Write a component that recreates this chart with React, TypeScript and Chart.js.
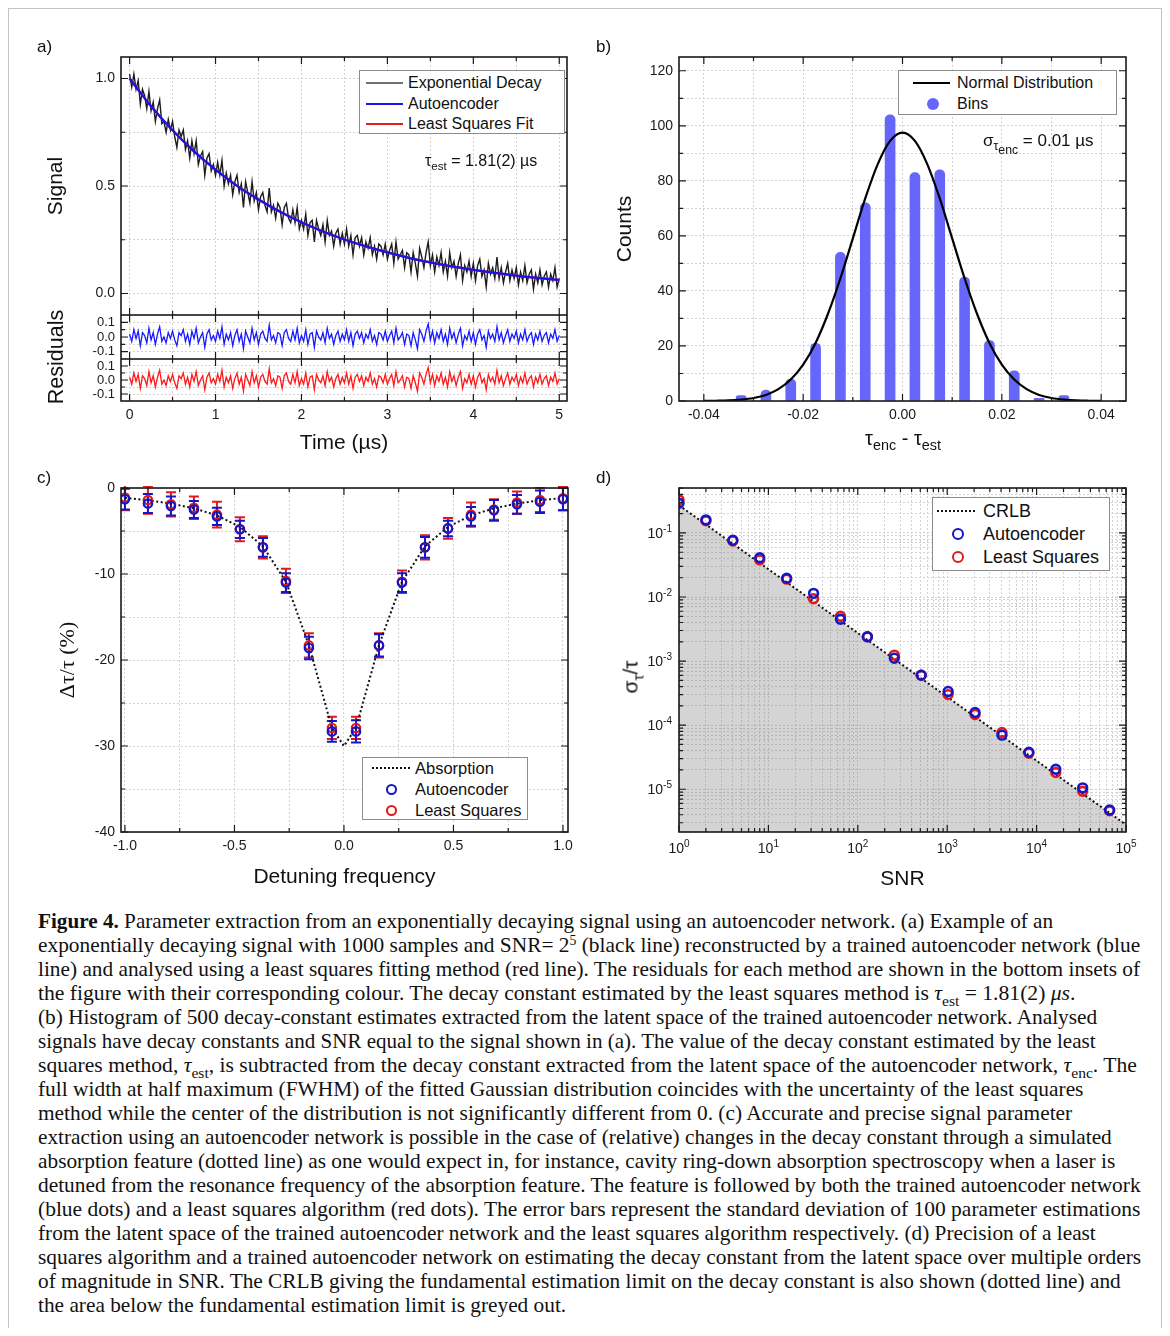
import React, { useEffect, useLayoutEffect, useRef } from 'react';
import { Chart, registerables } from 'chart.js';

Chart.register(...registerables);

const SANS = "'Liberation Sans', Arial, Helvetica, sans-serif";
const SERIF = "'Liberation Serif', 'Times New Roman', serif";

// ---------------- Panel a data ----------------
const aSampleStep = 0.025; // µs between plotted samples
const aSignal = [
  1.02, 0.96, 1.02, 0.95, 0.99, 0.88, 0.95, 0.92, 0.86, 0.94,
  0.85, 0.89, 0.80, 0.86, 0.90, 0.79, 0.80, 0.75, 0.81, 0.76,
  0.80, 0.73, 0.68, 0.76, 0.73, 0.76, 0.67, 0.71, 0.63, 0.71,
  0.65, 0.71, 0.60, 0.64, 0.66, 0.55, 0.63, 0.65, 0.57, 0.60,
  0.55, 0.61, 0.55, 0.62, 0.50, 0.56, 0.51, 0.55, 0.46, 0.52,
  0.55, 0.47, 0.51, 0.40, 0.52, 0.47, 0.42, 0.52, 0.43, 0.47,
  0.39, 0.45, 0.47, 0.41, 0.38, 0.49, 0.38, 0.41, 0.35, 0.42,
  0.40, 0.32, 0.40, 0.42, 0.35, 0.33, 0.39, 0.33, 0.40, 0.30,
  0.34, 0.30, 0.37, 0.27, 0.33, 0.34, 0.24, 0.34, 0.30, 0.27,
  0.32, 0.24, 0.34, 0.27, 0.29, 0.22, 0.28, 0.30, 0.23, 0.28,
  0.23, 0.30, 0.22, 0.27, 0.18, 0.26, 0.27, 0.22, 0.26, 0.18,
  0.24, 0.21, 0.26, 0.18, 0.22, 0.16, 0.23, 0.22, 0.18, 0.23,
  0.16, 0.20, 0.23, 0.14, 0.24, 0.16, 0.18, 0.20, 0.12, 0.19,
  0.18, 0.10, 0.19, 0.14, 0.08, 0.21, 0.17, 0.12, 0.19, 0.24,
  0.13, 0.18, 0.10, 0.17, 0.13, 0.19, 0.10, 0.15, 0.08, 0.19,
  0.12, 0.15, 0.08, 0.14, 0.18, 0.06, 0.13, 0.10, 0.15, 0.08,
  0.14, 0.06, 0.13, 0.16, 0.08, 0.11, 0.03, 0.14, 0.09, 0.12,
  0.07, 0.17, 0.07, 0.12, 0.05, 0.10, 0.14, 0.06, 0.11, 0.07,
  0.12, 0.04, 0.10, 0.06, 0.13, 0.05, 0.09, 0.11, 0.02, 0.09,
  0.05, 0.11, 0.04, 0.08, 0.10, 0.03, 0.09, 0.06, 0.12, 0.03,
  0.07,
];
const aResidualsAE = [
  0.02, -0.03, 0.05, -0.01, 0.04, -0.06, 0.03, 0.01, -0.04, 0.06,
  -0.02, 0.03, -0.05, 0.02, 0.07, -0.03, 0.0, -0.04, 0.03, -0.01,
  0.04, -0.02, -0.06, 0.03, 0.01, 0.05, -0.03, 0.02, -0.05, 0.04,
  -0.01, 0.06, -0.04, 0.0, 0.03, -0.07, 0.02, 0.05, -0.02, 0.01,
  -0.03, 0.04, -0.01, 0.07, -0.05, 0.02, -0.02, 0.03, -0.06, 0.01,
  0.05, -0.03, 0.02, -0.08, 0.04, 0.0, -0.04, 0.06, -0.02, 0.03,
  -0.05, 0.02, 0.04, -0.01, -0.03, 0.08, -0.02, 0.01, -0.04, 0.03,
  0.02, -0.06, 0.03, 0.05, -0.01, -0.03, 0.04, -0.02, 0.06, -0.04,
  0.01, -0.03, 0.05, -0.05, 0.02, 0.03, -0.07, 0.04, 0.0, -0.02,
  0.03, -0.04, 0.06, -0.01, 0.02, -0.05, 0.01, 0.04, -0.03, 0.02,
  -0.02, 0.05, -0.03, 0.03, -0.06, 0.02, 0.04, -0.01, 0.03, -0.04,
  0.02, -0.01, 0.05, -0.03, 0.01, -0.05, 0.03, 0.02, -0.02, 0.04,
  -0.03, 0.01, 0.04, -0.04, 0.06, -0.02, 0.0, 0.03, -0.05, 0.02,
  0.01, -0.06, 0.03, -0.02, -0.08, 0.05, 0.02, -0.03, 0.04, 0.09,
  -0.02, 0.04, -0.04, 0.03, -0.01, 0.05, -0.03, 0.02, -0.05, 0.06,
  -0.01, 0.03, -0.04, 0.02, 0.06, -0.06, 0.01, -0.02, 0.04, -0.03,
  0.03, -0.05, 0.02, 0.05, -0.02, 0.01, -0.07, 0.04, -0.01, 0.02,
  -0.03, 0.07, -0.02, 0.03, -0.04, 0.01, 0.05, -0.03, 0.02, -0.01,
  0.04, -0.04, 0.02, -0.02, 0.05, -0.03, 0.01, 0.03, -0.05, 0.02,
  -0.02, 0.04, -0.03, 0.01, 0.03, -0.04, 0.02, -0.01, 0.05, -0.03,
  0.01,
];
// the least-squares residuals are visually indistinguishable from the autoencoder ones
const aResidualsLS = aResidualsAE;
const aFitTime = [0, 0.25, 0.5, 0.75, 1, 1.25, 1.5, 1.75, 2, 2.25, 2.5, 2.75, 3, 3.25, 3.5, 3.75, 4, 4.25, 4.5, 4.75, 5];
const aFitAE = [1.0, 0.871, 0.759, 0.661, 0.576, 0.501, 0.437, 0.38, 0.331, 0.288, 0.251, 0.219, 0.191, 0.166, 0.145, 0.126, 0.11, 0.096, 0.083, 0.0725, 0.063];
const aFitLS = [1.0, 0.871, 0.759, 0.661, 0.576, 0.502, 0.437, 0.381, 0.331, 0.288, 0.251, 0.219, 0.191, 0.166, 0.145, 0.126, 0.11, 0.096, 0.083, 0.0725, 0.063];
const aTimeTicks = [0, 0.5, 1, 1.5, 2, 2.5, 3, 3.5, 4, 4.5, 5];
const aTimeMajor = [0, 1, 2, 3, 4, 5];
const aSignalTicks = [0, 0.25, 0.5, 0.75, 1.0];
const aSignalMajor = [0, 0.5, 1.0];
const aResidualTicks = [-0.1, -0.05, 0, 0.05, 0.1];
const aResidualMajor = [-0.1, 0, 0.1];

// ---------------- Panel b data ----------------
const bBinCenters = [-0.0325, -0.0275, -0.0225, -0.0175, -0.0125, -0.0075, -0.0025, 0.0025, 0.0075, 0.0125, 0.0175, 0.0225, 0.0275, 0.0325];
const bCounts = [2, 4, 8, 21, 54, 72, 104, 83, 84, 45, 22, 11, 1, 2];
const bNormalX = [
  -0.04, -0.0375, -0.035, -0.0325, -0.03, -0.0275, -0.025, -0.0225, -0.02, -0.0175, -0.015, -0.0125, -0.01, -0.0075, -0.005, -0.0025,
  0, 0.0025, 0.005, 0.0075, 0.01, 0.0125, 0.015, 0.0175, 0.02, 0.0225, 0.025, 0.0275, 0.03, 0.0325, 0.035, 0.0375, 0.04,
];
const bNormalY = [
  0.03, 0.09, 0.21, 0.5, 1.08, 2.2, 4.3, 7.8, 13.2, 21.1, 31.7, 44.6, 59.1, 73.6, 86.0, 94.5,
  97.5, 94.5, 86.0, 73.6, 59.1, 44.6, 31.7, 21.1, 13.2, 7.8, 4.3, 2.2, 1.08, 0.5, 0.21, 0.09, 0.03,
];
const bXTicks = [-0.04, -0.03, -0.02, -0.01, 0, 0.01, 0.02, 0.03, 0.04];
const bXMajor = [-0.04, -0.02, 0, 0.02, 0.04];
const bYTicks = [0, 10, 20, 30, 40, 50, 60, 70, 80, 90, 100, 110, 120];
const bYMajor = [0, 20, 40, 60, 80, 100, 120];

// ---------------- Panel c data ----------------
const cDetuning = [-1.0, -0.895, -0.79, -0.685, -0.58, -0.475, -0.37, -0.265, -0.16, -0.055, 0.055, 0.16, 0.265, 0.37, 0.475, 0.58, 0.685, 0.79, 0.895, 1.0];
const cAutoencoder = [-1.3, -1.8, -2.1, -2.5, -3.3, -4.8, -6.9, -11.0, -18.6, -28.3, -28.3, -18.3, -11.0, -6.9, -4.7, -3.3, -2.6, -1.9, -1.6, -1.3];
const cAutoencoderErr = [1.2, 1.1, 1.1, 1.0, 1.0, 1.0, 1.1, 1.1, 1.3, 1.2, 1.3, 1.3, 1.1, 1.2, 0.9, 1.1, 1.2, 1.1, 1.3, 1.3];
const cLeastSquares = [-1.1, -1.4, -1.9, -2.3, -3.1, -4.8, -6.9, -10.8, -18.3, -27.9, -27.9, -18.3, -10.9, -6.9, -4.7, -3.1, -2.5, -1.7, -1.4, -1.2];
const cLeastSquaresErr = [1.5, 1.6, 1.4, 1.3, 1.5, 1.4, 1.3, 1.4, 1.4, 1.3, 1.3, 1.4, 1.3, 1.4, 1.2, 1.4, 1.2, 1.3, 1.4, 1.4];
const cAbsorptionX = [-1.0, -0.895, -0.79, -0.685, -0.58, -0.475, -0.37, -0.265, -0.16, -0.055, 0, 0.055, 0.16, 0.265, 0.37, 0.475, 0.58, 0.685, 0.79, 0.895, 1.0];
const cAbsorption = [-1.15, -1.43, -1.81, -2.36, -3.19, -4.52, -6.79, -10.89, -18.29, -27.89, -30, -27.89, -18.29, -10.89, -6.79, -4.52, -3.19, -2.36, -1.81, -1.43, -1.15];
const cXTicks = [-1.0, -0.75, -0.5, -0.25, 0, 0.25, 0.5, 0.75, 1.0];
const cXMajor = [-1.0, -0.5, 0, 0.5, 1.0];
const cYTicks = [-40, -35, -30, -25, -20, -15, -10, -5, 0];
const cYMajor = [-40, -30, -20, -10, 0];

// ---------------- Panel d data ----------------
const dSNR = [1, 2, 4, 8, 16, 32, 64, 128, 256, 512, 1024, 2048, 4096, 8192, 16384, 32768, 65536];
const dAutoencoder = [0.29, 0.16, 0.077, 0.041, 0.0196, 0.0114, 0.0045, 0.0024, 0.00111, 0.0006, 0.000336, 0.000158, 0.0000698, 0.0000379, 0.0000205, 0.0000105, 0.00000475];
const dLeastSquares = [0.33, 0.155, 0.075, 0.038, 0.019, 0.0094, 0.005, 0.0024, 0.00124, 0.0006, 0.0003, 0.000147, 0.0000768, 0.0000365, 0.0000182, 0.0000093, 0.0000046];
const dCrlbSNR = [1, 100000];
const dCrlb = [0.27, 0.0000028];
const dXMajor = [1, 10, 100, 1000, 10000, 100000];
const dXExponents = ['0', '1', '2', '3', '4', '5'];
const dYMajor = [0.000001, 0.00001, 0.0001, 0.001, 0.01, 0.1];
const dYExponents = ['-6', '-5', '-4', '-3', '-2', '-1'];
const dMinorSteps = [2, 3, 4, 5, 6, 7, 8, 9];

// ---------------- helpers ----------------
const OFF = 8; // body margin
const P = (v: number) => v - OFF;
const AE_BLUE = '#1616c8';
const LS_RED = '#e01a1a';

function pairs(xs: number[], ys: number[]) {
  return xs.map((x, i) => ({ x, y: ys[i] }));
}
function near(list: number[], v: number) {
  return list.some((m) => Math.abs(m - v) <= 1e-12 + 1e-6 * Math.abs(m));
}
function logTicks(majors: number[], lo: number, hi: number) {
  const out: number[] = [];
  majors.forEach((m) => {
    if (m >= lo * 0.999 && m <= hi * 1.001) out.push(m);
    dMinorSteps.forEach((s) => {
      const v = m * s;
      if (v >= lo && v <= hi) out.push(v);
    });
  });
  return out.sort((a, b) => a - b);
}

const BASE = {
  responsive: false,
  animation: false,
  events: [],
  plugins: { legend: { display: false }, tooltip: { enabled: false } },
};

function axis(o: any) {
  return {
    type: o.type || 'linear',
    min: o.min,
    max: o.max,
    offset: false,
    afterBuildTicks: (scale: any) => {
      scale.ticks = o.ticks.map((value: number) => ({ value }));
    },
    afterFit: (scale: any) => {
      if (o.w !== undefined) scale.width = o.w;
      if (o.h !== undefined) scale.height = o.h;
      scale.paddingTop = 0;
      scale.paddingBottom = 0;
      scale.paddingLeft = 0;
      scale.paddingRight = 0;
    },
    grid: { color: '#d2d2d2', lineWidth: 1, drawTicks: false, offset: false, borderDash: [2, 2] },
    border: { display: false, dash: [2, 2] },
    ticks: {
      display: o.show !== false,
      autoSkip: false,
      maxRotation: 0,
      minRotation: 0,
      padding: o.pad ?? 6,
      color: '#1a1a1a',
      font: { family: SANS, size: o.font ?? 14 },
      callback: (_v: any, i: number, ts: any[]) => (o.label ? o.label(ts[i].value) : ''),
    },
    title: o.title ? { display: true, color: '#111', ...o.title } : { display: false },
  };
}

function framePlugin(majorX: number[], majorY: number[]) {
  return {
    id: 'frame',
    afterDraw(chart: any) {
      const { ctx, chartArea: a } = chart;
      const xs = chart.scales.x;
      const ys = chart.scales.y;
      ctx.save();
      ctx.strokeStyle = '#1a1a1a';
      ctx.lineWidth = 1.2;
      ctx.beginPath();
      xs.ticks.forEach((t: any) => {
        const px = xs.getPixelForValue(t.value);
        if (px < a.left - 0.5 || px > a.right + 0.5) return;
        const len = near(majorX, t.value) ? 7 : 4;
        ctx.moveTo(px, a.bottom);
        ctx.lineTo(px, a.bottom - len);
        ctx.moveTo(px, a.top);
        ctx.lineTo(px, a.top + len);
      });
      ys.ticks.forEach((t: any) => {
        const py = ys.getPixelForValue(t.value);
        if (py < a.top - 0.5 || py > a.bottom + 0.5) return;
        const len = near(majorY, t.value) ? 7 : 4;
        ctx.moveTo(a.left, py);
        ctx.lineTo(a.left + len, py);
        ctx.moveTo(a.right, py);
        ctx.lineTo(a.right - len, py);
      });
      ctx.stroke();
      ctx.lineWidth = 1.6;
      ctx.strokeRect(a.left, a.top, a.right - a.left, a.bottom - a.top);
      ctx.restore();
    },
  };
}

// draws "10" with a raised exponent at the major ticks of the log axes
const powerLabelPlugin = {
  id: 'powerLabels',
  afterDraw(chart: any) {
    const { ctx, chartArea: a } = chart;
    const xs = chart.scales.x;
    const ys = chart.scales.y;
    ctx.save();
    ctx.fillStyle = '#1a1a1a';
    ctx.textAlign = 'left';
    ctx.textBaseline = 'alphabetic';
    const draw = (x: number, y: number, exp: string, align: string) => {
      ctx.font = `14px ${SANS}`;
      const bw = ctx.measureText('10').width;
      ctx.font = `10px ${SANS}`;
      const ew = ctx.measureText(exp).width;
      const left = align === 'center' ? x - (bw + ew) / 2 : x - bw - ew;
      ctx.font = `14px ${SANS}`;
      ctx.fillText('10', left, y);
      ctx.font = `10px ${SANS}`;
      ctx.fillText(exp, left + bw, y - 6);
    };
    dXMajor.forEach((m, i) => {
      if (m < xs.min * 0.999 || m > xs.max * 1.001) return;
      draw(xs.getPixelForValue(m), a.bottom + 21, dXExponents[i], 'center');
    });
    dYMajor.forEach((m, i) => {
      if (m < ys.min || m > ys.max) return;
      draw(a.left - 7, ys.getPixelForValue(m) + 5, dYExponents[i], 'right');
    });
    ctx.restore();
  },
};

const errorBarPlugin = {
  id: 'errorBars',
  beforeDatasetsDraw(chart: any) {
    const { ctx, chartArea: a } = chart;
    const ys = chart.scales.y;
    ctx.save();
    ctx.beginPath();
    ctx.rect(a.left, a.top - 2, a.right - a.left, a.bottom - a.top + 4);
    ctx.clip();
    for (let i = chart.data.datasets.length - 1; i >= 0; i--) {
      const ds: any = chart.data.datasets[i];
      if (!ds.errors) continue;
      const meta = chart.getDatasetMeta(i);
      ctx.strokeStyle = ds.errorColor;
      ctx.lineWidth = 2;
      ctx.beginPath();
      meta.data.forEach((pt: any, j: number) => {
        const v = ds.data[j].y;
        const e = ds.errors[j];
        const yT = ys.getPixelForValue(v + e);
        const yB = ys.getPixelForValue(v - e);
        ctx.moveTo(pt.x, yT);
        ctx.lineTo(pt.x, yB);
        ctx.moveTo(pt.x - 5, yT);
        ctx.lineTo(pt.x + 5, yT);
        ctx.moveTo(pt.x - 5, yB);
        ctx.lineTo(pt.x + 5, yB);
      });
      ctx.stroke();
    }
    ctx.restore();
  },
};

// ---------------- chart configs ----------------
function signalConfig() {
  return {
    type: 'line',
    data: {
      datasets: [
        { label: 'Autoencoder', data: pairs(aFitTime, aFitAE), borderColor: '#1414f0', borderWidth: 2.2, pointRadius: 0, cubicInterpolationMode: 'monotone' },
        { label: 'Least Squares Fit', data: pairs(aFitTime, aFitLS), borderColor: '#e81c1c', borderWidth: 2.2, pointRadius: 0, cubicInterpolationMode: 'monotone' },
        { label: 'Exponential Decay', data: aSignal.map((y, i) => ({ x: i * aSampleStep, y })), borderColor: '#1c1c1c', borderWidth: 1.4, pointRadius: 0 },
      ],
    },
    options: {
      ...BASE,
      layout: { padding: { top: 17, right: 13, left: 0, bottom: 0 } },
      scales: {
        x: axis({ min: -0.1, max: 5.09, ticks: aTimeTicks, show: false, h: 0 }),
        y: axis({
          min: -0.1, max: 1.1, ticks: aSignalTicks, w: 91,
          label: (v: number) => (near(aSignalMajor, v) ? v.toFixed(1) : ''),
          title: { text: 'Signal', font: { family: SANS, size: 21 }, padding: { top: 14, bottom: 0 } },
        }),
      },
    },
    plugins: [framePlugin(aTimeMajor, aSignalMajor)],
  };
}

function residualConfig(values: number[], color: string, label: string, bottom: boolean) {
  return {
    type: 'line',
    data: {
      datasets: [{ label, data: values.map((y, i) => ({ x: i * aSampleStep, y })), borderColor: color, borderWidth: 1.3, pointRadius: 0 }],
    },
    options: {
      ...BASE,
      layout: { padding: { top: 0, right: 13, left: 0, bottom: 0 } },
      scales: {
        x: bottom
          ? axis({
              min: -0.1, max: 5.09, ticks: aTimeTicks, h: 59, pad: 6,
              label: (v: number) => (near(aTimeMajor, v) ? String(v) : ''),
              title: { text: 'Time (µs)', font: { family: SANS, size: 21 }, padding: { top: 0, bottom: 4 } },
            })
          : axis({ min: -0.1, max: 5.09, ticks: aTimeTicks, show: false, h: 0 }),
        y: axis({
          min: -0.15, max: 0.15, ticks: aResidualTicks, w: 91, font: 13, pad: 6,
          label: (v: number) => (near(aResidualMajor, v) ? (Math.abs(v) < 1e-9 ? '0.0' : v.toFixed(1)) : ''),
        }),
      },
    },
    plugins: [framePlugin(aTimeMajor, aResidualMajor)],
  };
}

function histConfig() {
  return {
    type: 'bar',
    data: {
      datasets: [
        { type: 'line', label: 'Normal Distribution', data: pairs(bNormalX, bNormalY), borderColor: '#000', borderWidth: 2.2, pointRadius: 0, cubicInterpolationMode: 'monotone' },
        { type: 'bar', label: 'Bins', data: pairs(bBinCenters, bCounts), backgroundColor: 'rgb(102,102,250)', barThickness: 10, borderRadius: 5, borderSkipped: 'start' },
      ],
    },
    options: {
      ...BASE,
      layout: { padding: { top: 17, right: 24, left: 0, bottom: 0 } },
      scales: {
        x: axis({ min: -0.045, max: 0.045, ticks: bXTicks, h: 59, pad: 6, label: (v: number) => (near(bXMajor, v) ? (Math.abs(v) < 1e-9 ? '0.00' : v.toFixed(2)) : '') }),
        y: axis({
          min: 0, max: 125, ticks: bYTicks, w: 89, pad: 6,
          label: (v: number) => (near(bYMajor, v) ? String(v) : ''),
          title: { text: 'Counts', font: { family: SANS, size: 21 }, padding: { top: 23, bottom: 0 } },
        }),
      },
    },
    plugins: [framePlugin(bXMajor, bYMajor)],
  };
}

function detuningConfig() {
  const ring = (color: string) => ({ pointRadius: 4.2, pointBorderWidth: 2.2, pointBorderColor: color, pointBackgroundColor: 'rgba(0,0,0,0)', borderColor: color, backgroundColor: 'rgba(0,0,0,0)' });
  return {
    type: 'scatter',
    data: {
      datasets: [
        { label: 'Autoencoder', data: pairs(cDetuning, cAutoencoder), errors: cAutoencoderErr, errorColor: AE_BLUE, ...ring(AE_BLUE) },
        { label: 'Least Squares', data: pairs(cDetuning, cLeastSquares), errors: cLeastSquaresErr, errorColor: LS_RED, ...ring(LS_RED) },
        { label: 'Absorption', data: pairs(cAbsorptionX, cAbsorption), showLine: true, borderColor: '#111', borderWidth: 2, borderDash: [2, 2.5], pointRadius: 0 },
      ],
    },
    options: {
      ...BASE,
      layout: { padding: { top: 18, right: 12, left: 0, bottom: 0 } },
      scales: {
        x: axis({
          min: -1.018, max: 1.023, ticks: cXTicks, h: 68, pad: 6,
          label: (v: number) => (near(cXMajor, v) ? (Math.abs(v) < 1e-9 ? '0.0' : v.toFixed(1)) : ''),
          title: { text: 'Detuning frequency', font: { family: SANS, size: 21 }, padding: { top: 0, bottom: 10 } },
        }),
        y: axis({
          min: -40, max: 0, ticks: cYTicks, w: 91, pad: 6,
          label: (v: number) => (near(cYMajor, v) ? String(v) : ''),
          title: { text: 'Δτ/τ (%)', font: { family: SERIF, size: 22 }, padding: { top: 25, bottom: 0 } },
        }),
      },
    },
    plugins: [errorBarPlugin, framePlugin(cXMajor, cYMajor)],
  };
}

function precisionConfig() {
  const ring = (color: string) => ({ pointRadius: 4.4, pointBorderWidth: 2.6, pointBorderColor: color, pointBackgroundColor: 'rgba(0,0,0,0)', borderColor: color, backgroundColor: 'rgba(0,0,0,0)' });
  const xMin = 1, xMax = 100000, yMin = 0.00000215, yMax = 0.503;
  return {
    type: 'scatter',
    data: {
      datasets: [
        { label: 'Autoencoder', data: pairs(dSNR, dAutoencoder), ...ring(AE_BLUE) },
        { label: 'Least Squares', data: pairs(dSNR, dLeastSquares), ...ring(LS_RED) },
        { label: 'CRLB', data: pairs(dCrlbSNR, dCrlb), showLine: true, borderColor: '#111', borderWidth: 2, borderDash: [2, 2.5], pointRadius: 0, fill: 'start', backgroundColor: 'rgba(120,120,120,0.32)' },
      ],
    },
    options: {
      ...BASE,
      layout: { padding: { top: 18, right: 24, left: 0, bottom: 0 } },
      scales: {
        x: axis({
          type: 'logarithmic', min: xMin, max: xMax, ticks: logTicks(dXMajor, xMin, xMax), h: 68, show: false,
          title: { text: 'SNR', font: { family: SANS, size: 21 }, padding: { top: 0, bottom: 8 } },
        }),
        y: axis({ type: 'logarithmic', min: yMin, max: yMax, ticks: logTicks(dYMajor, yMin, yMax), w: 89, show: false }),
      },
    },
    plugins: [framePlugin(dXMajor, dYMajor), powerLabelPlugin],
  };
}

// ---------------- components ----------------
function ChartCanvas({ left, top, width, height, make }: any) {
  const ref = useRef<HTMLCanvasElement>(null);
  useEffect(() => {
    const chart = new Chart(ref.current as any, make());
    return () => chart.destroy();
  }, []);
  return (
    <canvas
      ref={ref}
      width={width}
      height={height}
      style={{ position: 'absolute', left: P(left), top: P(top), width, height }}
    />
  );
}

const Sub = ({ children, size = '0.72em', shift = '-0.38em' }: any) => (
  <span style={{ fontSize: size, verticalAlign: shift, lineHeight: 0 }}>{children}</span>
);
const Sup = ({ children }: any) => (
  <span style={{ fontSize: '0.65em', verticalAlign: '0.55em', lineHeight: 0 }}>{children}</span>
);

function Txt({ x, cy, size, family = SANS, center = false, children, style }: any) {
  return (
    <div
      style={{
        position: 'absolute', left: P(x), top: P(cy), transform: center ? 'translate(-50%,-50%)' : 'translateY(-50%)',
        fontSize: size, fontFamily: family, lineHeight: 1, whiteSpace: 'nowrap', color: '#111', ...style,
      }}
    >
      {children}
    </div>
  );
}
function VTxt({ cx, cy, size, family = SANS, children }: any) {
  return (
    <div
      style={{
        position: 'absolute', left: P(cx), top: P(cy), transform: 'translate(-50%,-50%) rotate(-90deg)',
        fontSize: size, fontFamily: family, lineHeight: 1, whiteSpace: 'nowrap', color: '#111',
      }}
    >
      {children}
    </div>
  );
}
const Box = ({ l, t, w, h }: any) => (
  <div style={{ position: 'absolute', left: P(l), top: P(t), width: w, height: h, border: '1px solid #8c8c8c', background: '#fff', boxSizing: 'border-box' }} />
);
const HLine = ({ x1, x2, cy, color, width = 2, dotted = false }: any) => (
  <div style={{ position: 'absolute', left: P(x1), top: P(cy - width / 2), width: x2 - x1, height: 0, borderTop: `${width}px ${dotted ? 'dotted' : 'solid'} ${color}` }} />
);
const Ring = ({ cx, cy, d, color, bw }: any) => (
  <div style={{ position: 'absolute', left: P(cx - d / 2), top: P(cy - d / 2), width: d, height: d, borderRadius: '50%', border: `${bw}px solid ${color}`, boxSizing: 'border-box' }} />
);
const Dot = ({ cx, cy, d, color }: any) => (
  <div style={{ position: 'absolute', left: P(cx - d / 2), top: P(cy - d / 2), width: d, height: d, borderRadius: '50%', background: color }} />
);

const tau = <i>τ</i>;
const captionLines: any[] = [
  <><b>Figure 4.</b> Parameter extraction from an exponentially decaying signal using an autoencoder network. (a) Example of an</>,
  <>exponentially decaying signal with 1000 samples and SNR= 2<Sup>5</Sup> (black line) reconstructed by a trained autoencoder network (blue</>,
  <>line) and analysed using a least squares fitting method (red line). The residuals for each method are shown in the bottom insets of</>,
  <>the figure with their corresponding colour. The decay constant estimated by the least squares method is {tau}<Sub>est</Sub> = 1.81(2) <i>μs</i>.</>,
  <>(b) Histogram of 500 decay-constant estimates extracted from the latent space of the trained autoencoder network. Analysed</>,
  <>signals have decay constants and SNR equal to the signal shown in (a). The value of the decay constant estimated by the least</>,
  <>squares method, {tau}<Sub>est</Sub>, is subtracted from the decay constant extracted from the latent space of the autoencoder network, {tau}<Sub>enc</Sub>. The</>,
  <>full width at half maximum (FWHM) of the fitted Gaussian distribution coincides with the uncertainty of the least squares</>,
  <>method while the center of the distribution is not significantly different from 0. (c) Accurate and precise signal parameter</>,
  <>extraction using an autoencoder network is possible in the case of (relative) changes in the decay constant through a simulated</>,
  <>absorption feature (dotted line) as one would expect in, for instance, cavity ring-down absorption spectroscopy when a laser is</>,
  <>detuned from the resonance frequency of the absorption feature. The feature is followed by both the trained autoencoder network</>,
  <>(blue dots) and a least squares algorithm (red dots). The error bars represent the standard deviation of 100 parameter estimations</>,
  <>from the latent space of the trained autoencoder network and the least squares algorithm respectively. (d) Precision of a least</>,
  <>squares algorithm and a trained autoencoder network on estimating the decay constant from the latent space over multiple orders</>,
  <>of magnitude in SNR. The CRLB giving the fundamental estimation limit on the decay constant is also shown (dotted line) and</>,
  <>the area below the fundamental estimation limit is greyed out.</>,
];
const captionWidths = [1015, 1102, 1102, 1037, 1059, 1058, 1099, 1045, 1034, 1074, 1077, 1103, 1102, 1058, 1103, 1083, 528];

function Caption() {
  const refs = useRef<(HTMLSpanElement | null)[]>([]);
  useLayoutEffect(() => {
    refs.current.forEach((el, i) => {
      if (!el) return;
      const target = captionWidths[i];
      if (!target) return;
      const w = el.offsetWidth;
      if (w > 0) el.style.transform = `scaleX(${target / w})`;
    });
  }, []);
  return (
    <div style={{ position: 'absolute', left: P(38), top: P(909), fontFamily: SERIF, fontSize: 21, color: '#111' }}>
      {captionLines.map((line, i) => (
        <div key={i} style={{ height: 24, lineHeight: '24px', whiteSpace: 'nowrap' }}>
          <span
            ref={(el) => { refs.current[i] = el; }}
            style={{ display: 'inline-block', transformOrigin: 'left center', whiteSpace: 'nowrap' }}
          >
            {line}
          </span>
        </div>
      ))}
    </div>
  );
}

export default function App() {
  return (
    <div style={{ position: 'relative', height: 1322, marginBottom: -2, fontFamily: SANS }}>
      <div style={{ position: 'absolute', left: 0, top: 0, width: 1154, height: 1322, border: '1px solid #c4c4c4', boxSizing: 'border-box' }} />

      {/* panel a */}
      <ChartCanvas left={30} top={40} width={550} height={275} make={signalConfig} />
      <ChartCanvas left={30} top={315} width={550} height={44} make={() => residualConfig(aResidualsAE, 'rgb(25,25,255)', 'Autoencoder residuals', false)} />
      <ChartCanvas left={30} top={359} width={550} height={101} make={() => residualConfig(aResidualsLS, 'rgb(255,25,25)', 'Least squares residuals', true)} />
      {/* panel b */}
      <ChartCanvas left={590} top={40} width={560} height={420} make={histConfig} />
      {/* panel c */}
      <ChartCanvas left={30} top={470} width={550} height={430} make={detuningConfig} />
      {/* panel d */}
      <ChartCanvas left={590} top={470} width={560} height={430} make={precisionConfig} />

      {/* panel letters */}
      <Txt x={37} cy={46} size={17}>a)</Txt>
      <Txt x={596} cy={46} size={17}>b)</Txt>
      <Txt x={37} cy={477} size={17}>c)</Txt>
      <Txt x={596} cy={477} size={17}>d)</Txt>

      {/* panel a overlays */}
      <VTxt cx={57} cy={357} size={21.5}>Residuals</VTxt>
      <Box l={359} t={70} w={206} h={64} />
      <HLine x1={366} x2={403} cy={83} color="#707070" />
      <HLine x1={366} x2={403} cy={103.5} color="#1414f0" />
      <HLine x1={366} x2={403} cy={124} color="#e81c1c" />
      <Txt x={408} cy={83} size={16}>Exponential Decay</Txt>
      <Txt x={408} cy={103.5} size={16}>Autoencoder</Txt>
      <Txt x={408} cy={124} size={16}>Least Squares Fit</Txt>
      <Txt x={425} cy={161} size={16}>τ<Sub>est</Sub> = 1.81(2) µs</Txt>

      {/* panel b overlays */}
      <Box l={898} t={70} w={219} h={45} />
      <HLine x1={913} x2={950} cy={83} color="#000" />
      <Dot cx={933} cy={104} d={12} color="rgb(102,102,250)" />
      <Txt x={957} cy={83} size={16}>Normal Distribution</Txt>
      <Txt x={957} cy={104} size={16}>Bins</Txt>
      <Txt x={983} cy={141} size={17}>σ<Sub shift="-0.3em">τ<Sub size="1em" shift="-0.35em">enc</Sub></Sub> = 0.01 µs</Txt>
      <Txt x={903} cy={438} size={20} center>τ<Sub>enc</Sub> - τ<Sub>est</Sub></Txt>

      {/* panel c overlays */}
      <Box l={362} t={757} w={166} h={63} />
      <HLine x1={372} x2={410} cy={768} color="#111" dotted />
      <Ring cx={391} cy={789} d={11} color={AE_BLUE} bw={2.5} />
      <Ring cx={391} cy={810} d={11} color={LS_RED} bw={2.5} />
      <Txt x={415} cy={768} size={16.5}>Absorption</Txt>
      <Txt x={415} cy={789} size={16.5}>Autoencoder</Txt>
      <Txt x={415} cy={810} size={16.5}>Least Squares</Txt>

      {/* panel d overlays */}
      <VTxt cx={630} cy={677} size={21}>σ<Sub>τ</Sub>/τ</VTxt>
      <Box l={932} t={497} w={178} h={74} />
      <HLine x1={937} x2={975} cy={511} color="#111" dotted />
      <Ring cx={958} cy={534} d={12} color={AE_BLUE} bw={2.7} />
      <Ring cx={958} cy={557} d={12} color={LS_RED} bw={2.7} />
      <Txt x={983} cy={511} size={18}>CRLB</Txt>
      <Txt x={983} cy={534} size={18}>Autoencoder</Txt>
      <Txt x={983} cy={557} size={18}>Least Squares</Txt>

      <Caption />
    </div>
  );
}
